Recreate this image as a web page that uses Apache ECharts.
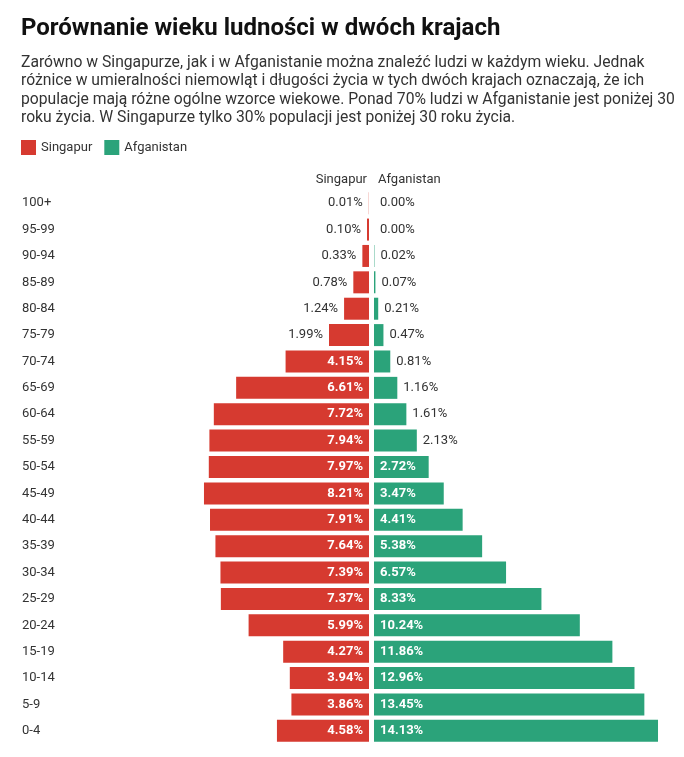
<!DOCTYPE html>
<html>
<head>
<meta charset="utf-8">
<script src="https://cdn.jsdelivr.net/npm/echarts@6/dist/echarts.min.js"></script>
<style>
  html, body { margin: 0; padding: 0; background: #fff; }
  #chart { width: 684px; height: 757px; }
</style>
</head>
<body>
<div id="chart"></div>
<script>
// grupy wiekowe, od najstarszych (góra) do najmłodszych
var ageGroups = ['100+', '95-99', '90-94', '85-89', '80-84', '75-79', '70-74', '65-69', '60-64', '55-59',
  '50-54', '45-49', '40-44', '35-39', '30-34', '25-29', '20-24', '15-19', '10-14', '5-9', '0-4'];
var singapur = [0.01, 0.10, 0.33, 0.78, 1.24, 1.99, 4.15, 6.61, 7.72, 7.94,
  7.97, 8.21, 7.91, 7.64, 7.39, 7.37, 5.99, 4.27, 3.94, 3.86, 4.58];
var afganistan = [0.00, 0.00, 0.02, 0.07, 0.21, 0.47, 0.81, 1.16, 1.61, 2.13,
  2.72, 3.47, 4.41, 5.38, 6.57, 8.33, 10.24, 11.86, 12.96, 13.45, 14.13];

var RED = '#d63a30';
var GREEN = '#2ba37a';
var FONT = 'Roboto, "Noto Sans", sans-serif';

function pct(p) { return p.value.toFixed(2) + '%'; }

// etykieta w środku słupka (biała) albo obok niego (ciemna)
function withLabels(values, limit, inPos, outPos) {
  return values.map(function (v) {
    var inside = v >= limit;
    return {
      value: v,
      label: {
        position: inside ? inPos : outPos,
        color: inside ? '#fff' : '#333',
        fontWeight: inside ? 'bold' : 'normal',
        distance: 6
      }
    };
  });
}

var chart = echarts.init(document.getElementById('chart'));
chart.setOption({
  animation: false,
  textStyle: { fontFamily: FONT },
  title: {
    text: 'Porównanie wieku ludności w dwóch krajach',
    subtext: 'Zarówno w Singapurze, jak i w Afganistanie można znaleźć ludzi w każdym wieku. Jednak\n' +
      'różnice w umieralności niemowląt i długości życia w tych dwóch krajach oznaczają, że ich\n' +
      'populacje mają różne ogólne wzorce wiekowe. Ponad 70% ludzi w Afganistanie jest poniżej 30\n' +
      'roku życia. W Singapurze tylko 30% populacji jest poniżej 30 roku życia.',
    left: 16,
    top: 12,
    itemGap: 13,
    textStyle: { fontFamily: FONT, fontSize: 24, fontWeight: 'bold', color: '#111' },
    subtextStyle: { fontFamily: FONT, fontSize: 15.7, lineHeight: 18.3, color: '#333' }
  },
  legend: {
    left: 16,
    top: 135,
    icon: 'rect',
    itemWidth: 15,
    itemHeight: 15,
    itemGap: 12,
    textStyle: { fontFamily: FONT, fontSize: 13, color: '#333' },
    data: ['Singapur', 'Afganistan']
  },
  graphic: [
    { type: 'text', right: 684 - 367, top: 173,
      style: { text: 'Singapur', font: '13px ' + FONT, fill: '#333' } },
    { type: 'text', left: 378, top: 173,
      style: { text: 'Afganistan', font: '13px ' + FONT, fill: '#333' } }
  ],
  grid: [
    { left: 168, width: 201, top: 190, bottom: 13 },
    { left: 374, width: 301.5, top: 190, bottom: 13 }
  ],
  xAxis: [
    { gridIndex: 0, type: 'value', min: 0, max: 10, inverse: true, show: false },
    { gridIndex: 1, type: 'value', min: 0, max: 15, show: false }
  ],
  yAxis: [
    {
      gridIndex: 0, type: 'category', data: ageGroups, inverse: true,
      axisLine: { show: false }, axisTick: { show: false }, splitLine: { show: false },
      axisLabel: { align: 'left', margin: 146, fontSize: 13, color: '#333', fontFamily: FONT }
    },
    {
      gridIndex: 1, type: 'category', data: ageGroups, inverse: true,
      axisLine: { show: false }, axisTick: { show: false }, axisLabel: { show: false },
      splitLine: { show: false }
    }
  ],
  series: [
    {
      name: 'Singapur', type: 'bar', xAxisIndex: 0, yAxisIndex: 0,
      barWidth: 22, itemStyle: { color: RED },
      label: { show: true, formatter: pct, fontSize: 13, fontFamily: FONT },
      data: withLabels(singapur, 3, 'insideRight', 'left')
    },
    {
      name: 'Afganistan', type: 'bar', xAxisIndex: 1, yAxisIndex: 1,
      barWidth: 22, itemStyle: { color: GREEN },
      label: { show: true, formatter: pct, fontSize: 13, fontFamily: FONT },
      data: withLabels(afganistan, 2.5, 'insideLeft', 'right')
    }
  ]
});
</script>
</body>
</html>
